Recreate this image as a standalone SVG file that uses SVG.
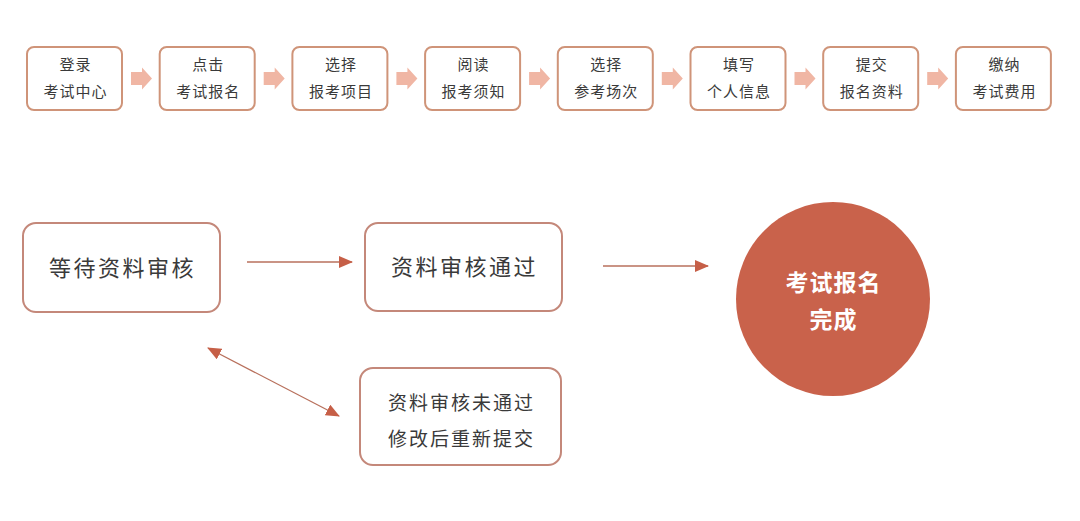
<svg xmlns="http://www.w3.org/2000/svg" width="1080" height="521" viewBox="0 0 1080 521">
<defs>
<style>
.t{font-family:"Noto Sans CJK SC","Noto Sans",sans-serif;fill:#3a3a3a;text-anchor:middle;dominant-baseline:central}
.s{font-size:15px;letter-spacing:1px}
.m{font-size:22px;letter-spacing:2.5px}
.n{font-size:19px;letter-spacing:2px}
.c{font-size:23px;font-weight:bold;fill:#fff;letter-spacing:1px}
.sb{fill:#fff;stroke:#cf9479;stroke-width:2}
.bb{fill:#fff;stroke:#c4887a;stroke-width:2}
.ba{fill:#f0b6a4}
.ln{stroke:#b8705c;stroke-width:1.3;fill:none}
</style>
<marker id="ah" viewBox="0 0 14 12" refX="13" refY="6" markerWidth="14" markerHeight="12" markerUnits="userSpaceOnUse" orient="auto-start-reverse">
<path d="M0,0 L14,6 L0,12 Z" fill="#c65f47"/>
</marker>
<path id="blk" d="M0,-6.5 H11 V-11 L21,0 L11,11 V6.5 H0 Z"/>
</defs>
<rect width="1080" height="521" fill="#fff"/>

<g id="n1"><rect class="sb" x="27" y="47" width="95" height="63" rx="7"/><text class="t s" x="75.5" y="63.5">登录</text><text class="t s" x="75.5" y="90.5">考试中心</text></g>
<g id="n2"><rect class="sb" x="159.7" y="47" width="95" height="63" rx="7"/><text class="t s" x="208.2" y="63.5">点击</text><text class="t s" x="208.2" y="90.5">考试报名</text></g>
<g id="n3"><rect class="sb" x="292.4" y="47" width="95" height="63" rx="7"/><text class="t s" x="340.9" y="63.5">选择</text><text class="t s" x="340.9" y="90.5">报考项目</text></g>
<g id="n4"><rect class="sb" x="425.1" y="47" width="95" height="63" rx="7"/><text class="t s" x="473.6" y="63.5">阅读</text><text class="t s" x="473.6" y="90.5">报考须知</text></g>
<g id="n5"><rect class="sb" x="557.8" y="47" width="95" height="63" rx="7"/><text class="t s" x="606.3" y="63.5">选择</text><text class="t s" x="606.3" y="90.5">参考场次</text></g>
<g id="n6"><rect class="sb" x="690.5" y="47" width="95" height="63" rx="7"/><text class="t s" x="739" y="63.5">填写</text><text class="t s" x="739" y="90.5">个人信息</text></g>
<g id="n7"><rect class="sb" x="823.2" y="47" width="95" height="63" rx="7"/><text class="t s" x="871.7" y="63.5">提交</text><text class="t s" x="871.7" y="90.5">报名资料</text></g>
<g id="n8"><rect class="sb" x="955.9" y="47" width="95" height="63" rx="7"/><text class="t s" x="1004.4" y="63.5">缴纳</text><text class="t s" x="1004.4" y="90.5">考试费用</text></g>

<g id="b1"><rect class="bb" x="23" y="223" width="197" height="89" rx="13"/><text class="t m" x="122.5" y="266">等待资料审核</text></g>
<g id="b2"><rect class="bb" x="365" y="223" width="197" height="88" rx="13"/><text class="t m" x="464.5" y="265">资料审核通过</text></g>
<g id="b3"><rect class="bb" x="360" y="368" width="201" height="97" rx="13"/><text class="t n" x="461.5" y="401">资料审核未通过</text><text class="t n" x="461.5" y="437">修改后重新提交</text></g>
<g id="done"><circle cx="833" cy="299" r="97" fill="#c9624b"/><text class="t c" x="833.5" y="281">考试报名</text><text class="t c" x="833.5" y="318">完成</text></g>

<g id="connectors">
<use href="#blk" class="ba" x="131" y="78.5"/>
<use href="#blk" class="ba" x="263.7" y="78.5"/>
<use href="#blk" class="ba" x="396.4" y="78.5"/>
<use href="#blk" class="ba" x="529.1" y="78.5"/>
<use href="#blk" class="ba" x="661.8" y="78.5"/>
<use href="#blk" class="ba" x="794.5" y="78.5"/>
<use href="#blk" class="ba" x="927.2" y="78.5"/>
<line class="ln" x1="247" y1="262" x2="352" y2="262" marker-end="url(#ah)"/>
<line class="ln" x1="603" y1="266" x2="708" y2="266" marker-end="url(#ah)"/>
<line class="ln" x1="208" y1="348" x2="339" y2="416" marker-start="url(#ah)" marker-end="url(#ah)"/>
</g>
</svg>
